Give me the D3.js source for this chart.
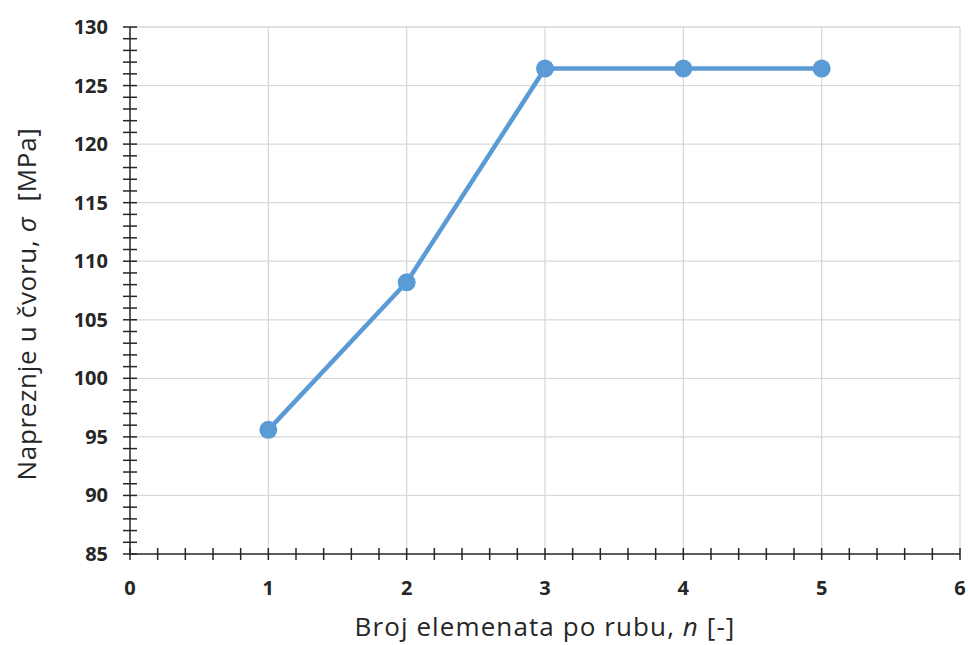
<!DOCTYPE html>
<html>
<head>
<meta charset="utf-8">
<script src="https://cdn.jsdelivr.net/npm/d3@7"></script>
<style>
  body { margin: 0; background: #fff; }
  text { font-family: "Open Sans", "Liberation Sans", sans-serif; fill: #262626; }
</style>
</head>
<body>
<div id="chart"></div>
<script>
// values
var nValues = [1, 2, 3, 4, 5];
var stressValues = [95.6, 108.2, 126.45, 126.45, 126.45];
var xTicks = [0, 1, 2, 3, 4, 5, 6];
var yTicks = [85, 90, 95, 100, 105, 110, 115, 120, 125, 130];

var margin = {top: 27, right: 8, bottom: 91, left: 130},
    width = 968 - margin.left - margin.right,
    height = 645 - margin.top - margin.bottom;

var svg = d3.select('#chart').append('svg')
            .attr('width', 968)
            .attr('height', 645)
            .append('g')
            .attr('transform', "translate(" + margin.left + "," + margin.top + ")");

var x = d3.scaleLinear().domain([0, 6]).range([0, width]);
var y = d3.scaleLinear().domain([85, 130]).range([height, 0]);

// gridlines
svg.append('g').selectAll('line').data(yTicks.slice(1)).enter().append('line')
   .attr('x1', 0).attr('x2', width)
   .attr('y1', function(d){ return y(d); }).attr('y2', function(d){ return y(d); })
   .attr('stroke', '#d9d9d9').attr('stroke-width', 1.3);
svg.append('g').selectAll('line').data(xTicks.slice(1)).enter().append('line')
   .attr('y1', 0).attr('y2', height)
   .attr('x1', function(d){ return x(d); }).attr('x2', function(d){ return x(d); })
   .attr('stroke', '#d9d9d9').attr('stroke-width', 1.3);

// minor ticks crossing the axes
var xMinor = d3.range(0, 6.001, 0.2);
var yMinor = d3.range(85, 130.001, 1);

var xAxis = svg.append('g').attr('transform', "translate(0," + height + ")");
xAxis.append('line').attr('x1', 0).attr('x2', width)
     .attr('stroke', '#262626').attr('stroke-width', 1.5);
xAxis.selectAll('.tk').data(xMinor).enter().append('line')
     .attr('x1', function(d){ return x(d); }).attr('x2', function(d){ return x(d); })
     .attr('y1', -6).attr('y2', 6)
     .attr('stroke', '#262626').attr('stroke-width', 1.5);
xAxis.selectAll('text').data(xTicks).enter().append('text')
     .attr('x', function(d){ return x(d); }).attr('y', 41)
     .attr('text-anchor', 'middle')
     .style('font-size', '20px').style('font-weight', 'bold')
     .text(function(d){ return d; });

var yAxis = svg.append('g');
yAxis.append('line').attr('y1', 0).attr('y2', height)
     .attr('stroke', '#262626').attr('stroke-width', 1.5);
yAxis.selectAll('.tk').data(yMinor).enter().append('line')
     .attr('y1', function(d){ return y(d); }).attr('y2', function(d){ return y(d); })
     .attr('x1', -7).attr('x2', 7)
     .attr('stroke', '#262626').attr('stroke-width', 1.5);
yAxis.selectAll('text').data(yTicks).enter().append('text')
     .attr('x', -22).attr('y', function(d){ return y(d); })
     .attr('dy', '0.35em')
     .attr('text-anchor', 'end')
     .style('font-size', '20px').style('font-weight', 'bold')
     .text(function(d){ return d; });

// axis titles
var xt = svg.append('text')
   .attr('x', 415).attr('y', height + 82)
   .attr('text-anchor', 'middle')
   .style('font-size', '26px').style('letter-spacing', '1.1px');
xt.append('tspan').text('Broj elemenata po rubu, ');
xt.append('tspan').style('font-style', 'italic').text('n');
xt.append('tspan').text(' [-]');

var yt = svg.append('text')
   .attr('transform', "translate(-94," + (304 - margin.top) + ") rotate(-90)")
   .attr('text-anchor', 'middle')
   .style('font-size', '26px').style('letter-spacing', '0.7px')
   .attr('xml:space', 'preserve');
yt.append('tspan').text('Napreznje u čvoru, ');
yt.append('tspan').style('font-style', 'italic').text('σ');
yt.append('tspan').text('  [MPa]');

// series
var data = nValues.map(function(n, i){ return {n: n, s: stressValues[i]}; });
svg.append('path')
   .datum(data)
   .attr('fill', 'none')
   .attr('stroke', '#5b9bd5')
   .attr('stroke-width', 4.5)
   .attr('stroke-linejoin', 'round')
   .attr('d', d3.line()
        .x(function(d){ return x(d.n); })
        .y(function(d){ return y(d.s); })
   );
svg.selectAll('circle').data(data).enter().append('circle')
   .attr('cx', function(d){ return x(d.n); })
   .attr('cy', function(d){ return y(d.s); })
   .attr('r', 9)
   .attr('fill', '#5b9bd5');
</script>
</body>
</html>
